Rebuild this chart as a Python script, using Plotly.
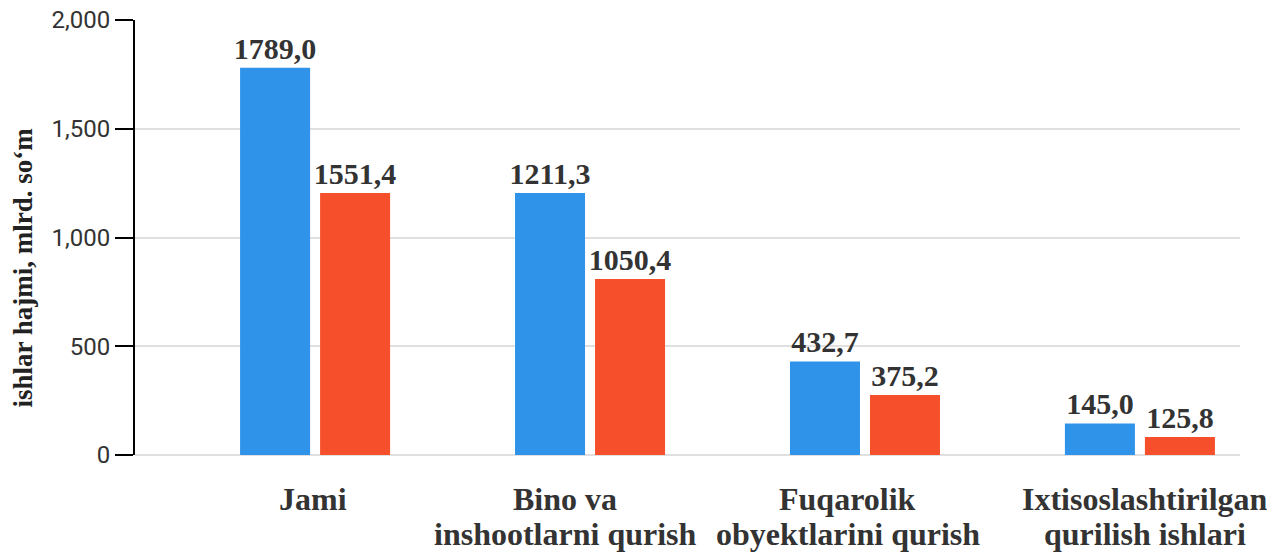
import plotly.graph_objects as go

categories = ["Jami", "Bino va<br>inshootlarni qurish", "Fuqarolik<br>obyektlarini qurish", "Ixtisoslashtirilgan<br>qurilish ishlari"]
blue_values = [1780, 1205, 430, 145]
blue_labels = ["1789,0", "1211,3", "432,7", "145,0"]
red_values = [1205, 809, 276, 83]
red_labels = ["1551,4", "1050,4", "375,2", "125,8"]
y_ticks = [0, 500, 1000, 1500, 2000]
y_title = "ishlar hajmi, mlrd. so‘m"

# styling: horizontal nudge of each category label (px) and line spacing
label_xshift = [-2, -25, -17, 5]
line_y = [-44, -79]

label_font = dict(family="Liberation Serif", size=30, color="#333333", weight="bold")
cat_font = dict(family="Liberation Serif", size=32, color="#333333", weight="bold")

fig = go.Figure()
fig.add_trace(go.Bar(x=categories, y=blue_values, text=blue_labels, textposition="outside",
                     constraintext="none",
                     marker=dict(color="#2F93EA", line=dict(width=0)),
                     textfont=label_font, cliponaxis=False))
fig.add_trace(go.Bar(x=categories, y=red_values, text=red_labels, textposition="outside",
                     constraintext="none",
                     marker=dict(color="#F5502B", line=dict(width=0)),
                     textfont=label_font, cliponaxis=False))

fig.update_layout(
    width=1267, height=552,
    margin=dict(l=135, r=27, t=20, b=97),
    paper_bgcolor="white", plot_bgcolor="white",
    barmode="group", bargap=0.418, bargroupgap=0.125,
    showlegend=False,
)
fig.update_xaxes(range=[-0.655, 3.364], showgrid=False, showline=False, ticks="",
                 automargin=False, showticklabels=False)
fig.update_yaxes(range=[0, 2000], tickvals=y_ticks, tickformat=",", automargin=False,
                 showgrid=True, gridcolor="#e0e0e0", gridwidth=2,
                 zeroline=True, zerolinecolor="#e0e0e0", zerolinewidth=2,
                 showline=True, linecolor="black", linewidth=2,
                 ticks="outside", ticklen=18, tickwidth=2, tickcolor="black",
                 tickfont=dict(family="Roboto", size=24, color="#333333"))

for cat, dx in zip(categories, label_xshift):
    for k, line in enumerate(cat.split("<br>")):
        fig.add_annotation(text=line, x=cat, xref="x", y=0, yref="paper",
                           xanchor="center", yanchor="middle",
                           xshift=dx, yshift=line_y[k], showarrow=False, font=cat_font)

fig.add_annotation(text=y_title, textangle=-90, xref="paper", yref="paper",
                   x=0, y=0.431, xanchor="center", yanchor="middle", xshift=-112,
                   showarrow=False,
                   font=dict(family="Liberation Serif", size=27, color="#222222", weight="bold"))

fig.write_html("out.html", config={"displayModeBar": False},
               post_script="document.body.style.margin='0';document.body.style.overflow='hidden';")
